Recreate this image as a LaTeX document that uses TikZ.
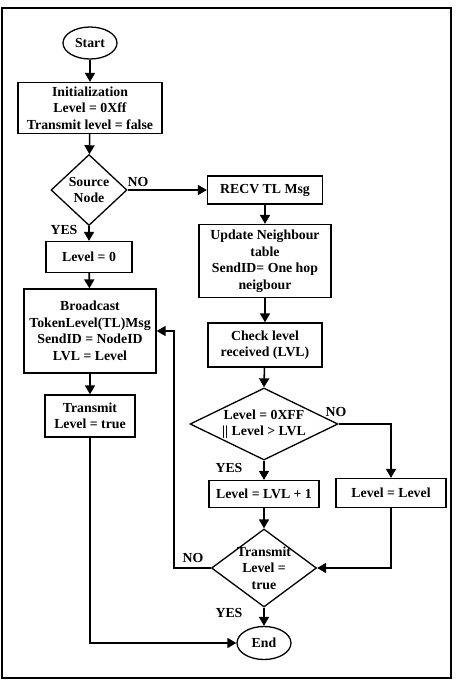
\documentclass[tikz,border=0pt]{standalone}
\usepackage{fontspec}
\setmainfont{Liberation Serif}
\usetikzlibrary{shapes,arrows.meta,positioning}

\begin{document}
\begin{tikzpicture}[x=1pt,y=-1pt,
    every node/.style={font=\fontsize{13.8}{16.5}\selectfont\bfseries,align=center,inner sep=0pt},
    blk/.style={draw,line width=1.3pt,rectangle},
    dec/.style={draw,line width=1.3pt,diamond},
    term/.style={draw,line width=1.3pt,ellipse},
    arr/.style={line width=1.6pt,-{Triangle[length=9pt,width=10pt]}}]
  \useasboundingbox (0,0) rectangle (457,681);
  \draw[line width=1.3pt] (2,8) rectangle (451,678);

  % left column
  \node[term,minimum width=54,minimum height=32] (start) at (90,43) {Start};
  \node[blk,minimum width=144,minimum height=51] (init) at (90,108) {Initialization\\Level = 0Xff\\Transmit level = false};
  \node[dec,minimum width=76,minimum height=71,label={center:Source\\Node}] (src) at (89,190) {};
  \node[blk,minimum width=86,minimum height=31] (lvl0) at (89,257) {Level = 0};
  \node[blk,minimum width=132,minimum height=84] (bcast) at (90,331) {Broadcast\\TokenLevel(TL)Msg\\SendID = NodeID\\LVL = Level};
  \node[blk,minimum width=90,minimum height=42] (tx) at (90,416) {Transmit\\Level = true};

  % right column
  \node[blk,minimum width=115,minimum height=28] (recv) at (265,190) {RECV TL Msg};
  \node[blk,minimum width=132,minimum height=73] (upd) at (265,261) {Update Neighbour\\table\\SendID= One hop\\neigbour};
  \node[blk,minimum width=114,minimum height=44] (chk) at (265,345) {Check level\\received (LVL)};
  \node[dec,minimum width=148,minimum height=72,label={center:Level = 0XFF\\\textbar\textbar{} Level > LVL}] (cmp) at (264,424) {};
  \node[blk,minimum width=110,minimum height=27] (inc) at (264,494) {Level = LVL + 1};
  \node[blk,minimum width=110,minimum height=29] (same) at (391,493) {Level = Level};
  \node[dec,minimum width=105,minimum height=78,label={center:Transmit\\Level =\\true}] (tl) at (264,568) {};
  \node[term,minimum width=54,minimum height=33] (endn) at (264,643) {End};

  % labels
  \node (no1) at (138,182) {NO};
  \node (yes1) at (64,230) {YES};
  \node (no2) at (336,412) {NO};
  \node (yes2) at (229,468) {YES};
  \node (no3) at (193,558) {NO};
  \node (yes3) at (229,613) {YES};

  % connectors
  \draw[arr] (start) -- (init);
  \draw[arr] (init) -- (src);
  \draw[arr] (src.east) -- (recv.west);
  \draw[arr] (src.south) -- (lvl0);
  \draw[arr] (lvl0) -- (bcast);
  \draw[arr] (bcast) -- (tx);
  \draw[arr] (tx.south) |- (endn.west);
  \draw[arr] (recv) -- (upd);
  \draw[arr] (upd) -- (chk);
  \draw[arr] (chk) -- (cmp.north);
  \draw[arr] (cmp.east) -| (same.north);
  \draw[arr] (cmp.south) -- (inc);
  \draw[arr] (inc) -- (tl.north);
  \draw[arr] (same.south) |- (tl.east);
  \draw[arr] (tl.west) -- ++(-37,0) |- (bcast.east);
  \draw[arr] (tl.south) -- (endn);
\end{tikzpicture}
\end{document}
